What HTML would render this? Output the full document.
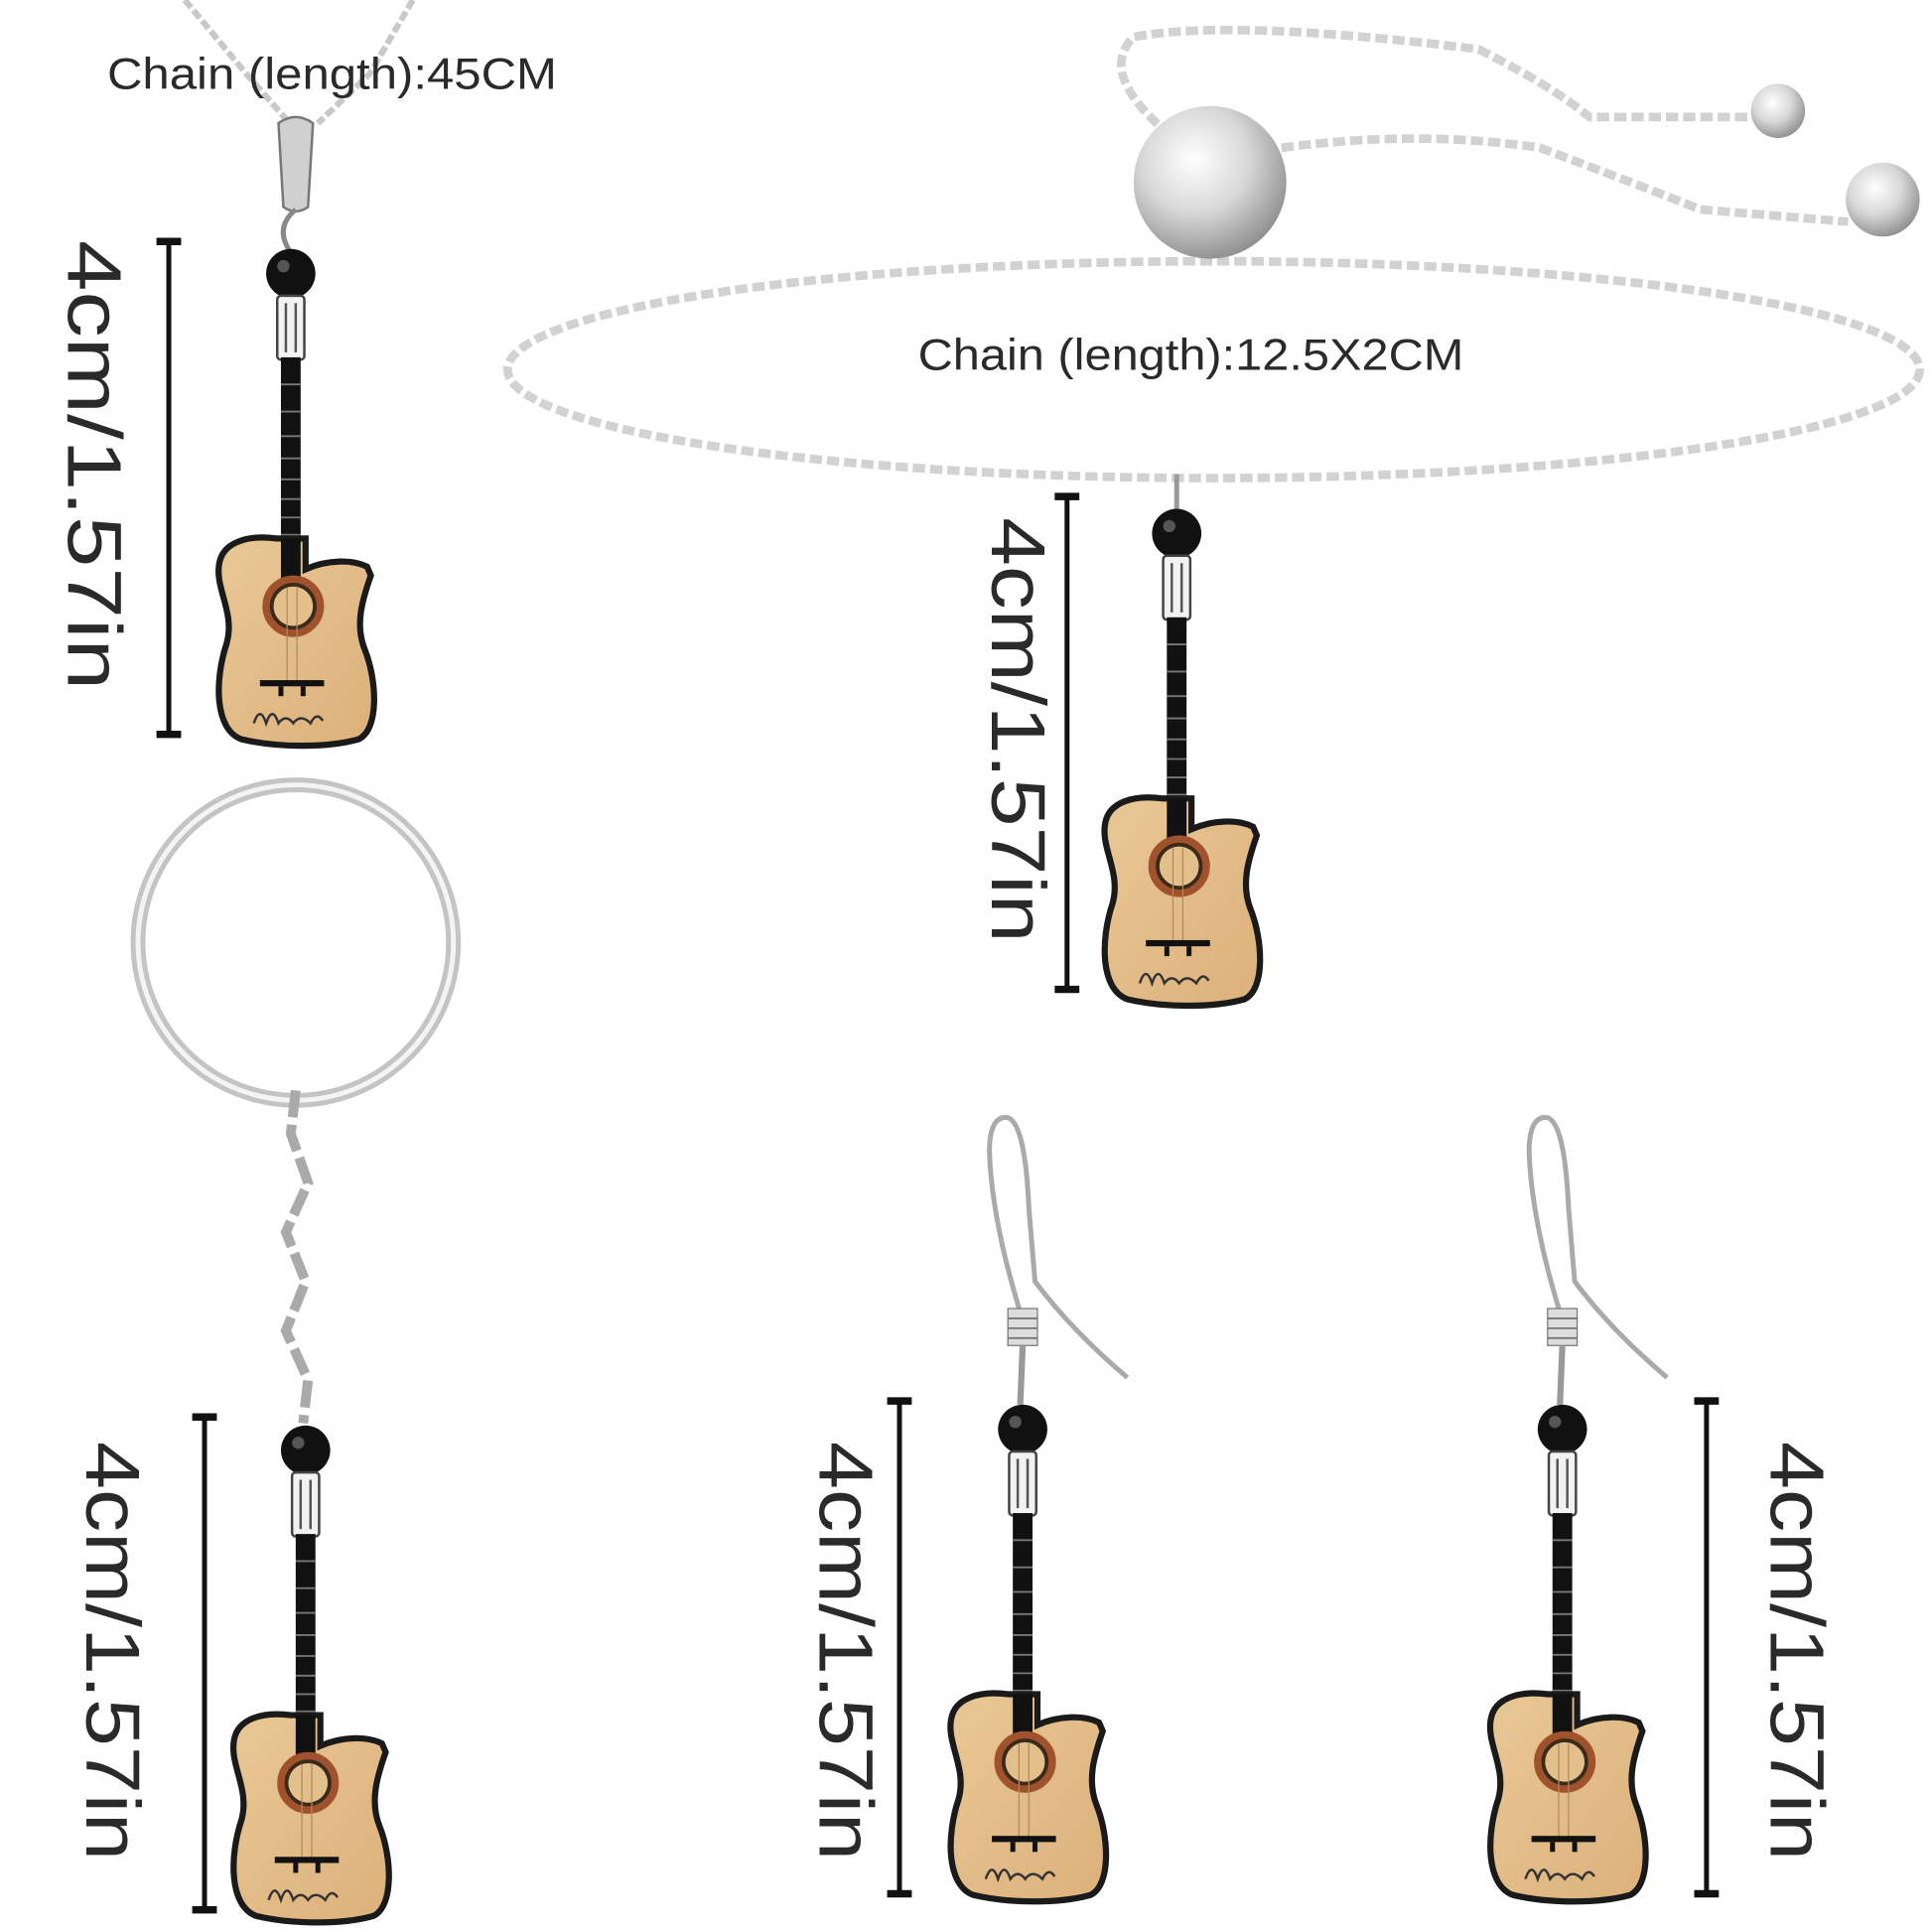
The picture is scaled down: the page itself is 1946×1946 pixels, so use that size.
<!DOCTYPE html>
<html><head><style>
html,body{margin:0;padding:0;background:#fff;}
svg{display:block;}
text{font-family:"Liberation Sans",sans-serif;fill:#2a2a2a;}
</style></head><body>
<svg width="1946" height="1946" viewBox="0 0 1568 1568" xmlns="http://www.w3.org/2000/svg">
<defs>
<radialGradient id="ball" cx="0.4" cy="0.35" r="0.7">
<stop offset="0" stop-color="#ffffff"/><stop offset="0.5" stop-color="#d8d8d8"/><stop offset="1" stop-color="#8a8a8a"/></radialGradient>
<linearGradient id="wood" x1="0" y1="0" x2="1" y2="1">
<stop offset="0" stop-color="#e9c896"/><stop offset="1" stop-color="#dcb07a"/></linearGradient>
<g id="guitar">
<circle cx="0" cy="0" r="20" fill="#111"/>
<circle cx="-6" cy="-6" r="5" fill="#555"/>
<rect x="-11" y="18" width="22" height="52" rx="3" fill="#f2f2f2" stroke="#444" stroke-width="2"/>
<line x1="-4" y1="24" x2="-4" y2="64" stroke="#555" stroke-width="2"/>
<line x1="4" y1="24" x2="4" y2="64" stroke="#555" stroke-width="2"/>
<rect x="-8" y="68" width="16" height="180" fill="#111"/>
<g stroke="#777" stroke-width="1.5">
<line x1="-8" y1="90" x2="8" y2="90"/><line x1="-8" y1="112" x2="8" y2="112"/><line x1="-8" y1="132" x2="8" y2="132"/><line x1="-8" y1="150" x2="8" y2="150"/><line x1="-8" y1="167" x2="8" y2="167"/><line x1="-8" y1="183" x2="8" y2="183"/><line x1="-8" y1="198" x2="8" y2="198"/><line x1="-8" y1="212" x2="8" y2="212"/><line x1="-8" y1="225" x2="8" y2="225"/></g>
<path d="M-12 215 C-35 212 -55 218 -58 235 C-62 255 -45 275 -52 300 C-62 330 -62 370 -40 378 C-10 385 30 385 55 378 C72 370 70 330 60 305 C52 285 58 265 65 245 L62 238 C50 232 30 232 12 240 L12 215 Z" fill="url(#wood)" stroke="#1a1a1a" stroke-width="5"/>
<rect x="-8" y="215" width="16" height="40" fill="#111"/>
<circle cx="2" cy="270" r="22" fill="#3a2a1a" stroke="#a0522d" stroke-width="6"/>
<circle cx="2" cy="270" r="16" fill="#e3bf8c"/>
<line x1="-3" y1="255" x2="-3" y2="335" stroke="#b28a5a" stroke-width="1"/>
<line x1="5" y1="255" x2="5" y2="335" stroke="#b28a5a" stroke-width="1"/>
<rect x="-25" y="330" width="52" height="5" fill="#111"/>
<rect x="-10" y="335" width="4" height="8" fill="#111"/><rect x="8" y="335" width="4" height="8" fill="#111"/>
<path d="M-30 365 q5 -15 10 0 q5 -15 10 0 q6 -8 12 0 q6 -8 14 0 q5 -10 10 -2" fill="none" stroke="#333" stroke-width="2"/>
</g>
<g id="bar"><line x1="0" y1="0" x2="0" y2="400" stroke="#111" stroke-width="4"/><line x1="-10" y1="0" x2="10" y2="0" stroke="#111" stroke-width="6"/><line x1="-10" y1="400" x2="10" y2="400" stroke="#111" stroke-width="6"/></g>
<g id="hook">
<path d="M-2 -95 Q-25 -170 -27 -225 Q-27 -255 -12 -253 Q2 -248 5 -180 L10 -120 Q40 -80 85 -42" fill="none" stroke="#aaa" stroke-width="4"/>
<rect x="-12" y="-98" width="24" height="30" fill="#ddd" stroke="#777"/>
<g stroke="#777" stroke-width="1.5"><line x1="-12" y1="-90" x2="12" y2="-90"/><line x1="-12" y1="-82" x2="12" y2="-82"/><line x1="-12" y1="-74" x2="12" y2="-74"/></g>
<path d="M0 -68 L-2 -20" stroke="#999" stroke-width="5"/>
</g>
</defs>

<!-- necklace chain -->
<path d="M150 0 L200 60 L235 100 M335 0 L300 60 L258 100" stroke="#c8c8c8" stroke-width="5" fill="none" stroke-dasharray="8 3"/>
<path d="M226 100 Q240 90 254 100 L250 168 Q240 175 230 168 Z" fill="#d0d0d0" stroke="#777" stroke-width="2"/>
<path d="M240 170 Q222 185 236 205" fill="none" stroke="#888" stroke-width="4"/>
<text x="87" y="72" font-size="36" textLength="365" lengthAdjust="spacingAndGlyphs">Chain (length):45CM</text>

<!-- bracelet -->
<ellipse cx="985" cy="300" rx="573" ry="88" fill="none" stroke="#d2d2d2" stroke-width="7" stroke-dasharray="10 4"/>
<path d="M950 110 Q890 60 920 30 Q1000 15 1200 40 Q1260 70 1290 95 L1420 95" fill="none" stroke="#d2d2d2" stroke-width="7" stroke-dasharray="10 4"/>
<path d="M1040 120 Q1150 105 1250 120 Q1330 150 1380 170 L1500 180" fill="none" stroke="#d2d2d2" stroke-width="7" stroke-dasharray="10 4"/>
<circle cx="1443" cy="90" r="22" fill="url(#ball)"/>
<circle cx="1528" cy="162" r="30" fill="url(#ball)"/>
<circle cx="982" cy="148" r="62" fill="url(#ball)"/>
<text x="745" y="300" font-size="36" textLength="443" lengthAdjust="spacingAndGlyphs">Chain (length):12.5X2CM</text>
<line x1="955" y1="385" x2="955" y2="415" stroke="#999" stroke-width="4"/>

<!-- keyring -->
<circle cx="240" cy="765" r="128" fill="none" stroke="#c4c4c4" stroke-width="12"/>
<circle cx="240" cy="765" r="128" fill="none" stroke="#f4f4f4" stroke-width="4"/>
<path d="M240 885 L236 920 L250 960 L232 1000 L248 1040 L232 1080 L250 1120 L246 1155" fill="none" stroke="#aaa" stroke-width="8" stroke-dasharray="22 6"/>

<!-- earring hooks -->
<use href="#hook" x="830" y="1160"/>
<use href="#hook" x="1268" y="1160"/>

<!-- guitars -->
<use href="#guitar" x="236" y="222"/>
<use href="#guitar" x="955" y="433"/>
<use href="#guitar" x="248" y="1177"/>
<use href="#guitar" x="830" y="1160"/>
<use href="#guitar" x="1268" y="1160"/>

<!-- bars -->
<use href="#bar" x="137" y="196"/>
<use href="#bar" x="866" y="403"/>
<use href="#bar" x="166" y="1150"/>
<use href="#bar" x="730" y="1137"/>
<use href="#bar" x="1385" y="1137"/>

<g font-size="62">
<text transform="translate(55,195) rotate(90)" textLength="365" lengthAdjust="spacingAndGlyphs">4cm/1.57in</text>
<text transform="translate(805,420) rotate(90)" textLength="345" lengthAdjust="spacingAndGlyphs">4cm/1.57in</text>
<text transform="translate(70,1170) rotate(90)" textLength="340" lengthAdjust="spacingAndGlyphs">4cm/1.57in</text>
<text transform="translate(665,1170) rotate(90)" textLength="340" lengthAdjust="spacingAndGlyphs">4cm/1.57in</text>
<text transform="translate(1437,1170) rotate(90)" textLength="340" lengthAdjust="spacingAndGlyphs">4cm/1.57in</text>
</g>
</svg>
</body></html>
